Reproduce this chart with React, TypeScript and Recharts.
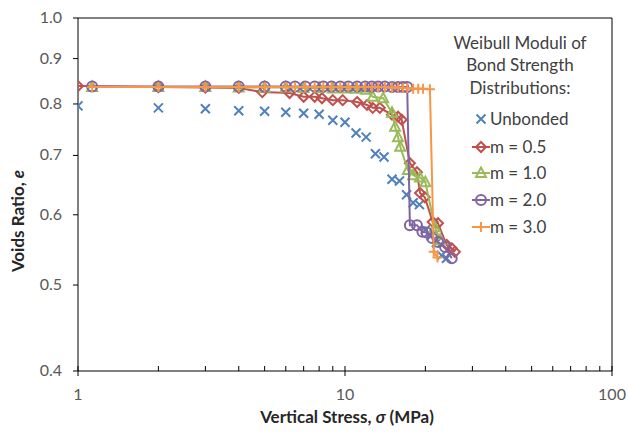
import React from 'react';
import { ScatterChart, Scatter, XAxis, YAxis, ReferenceLine } from 'recharts';

// ---- data ----
const unbondedStress = [1, 2, 3, 4, 5, 6, 7, 8, 9, 10, 11, 12, 13, 14, 15, 16, 17, 18, 19, 20, 21, 22, 23, 24];
const unbondedVoids = [0.796, 0.792, 0.79, 0.786, 0.785, 0.783, 0.781, 0.779, 0.767, 0.763, 0.742, 0.734, 0.703, 0.697, 0.658, 0.655, 0.632, 0.619, 0.616, 0.577, 0.568, 0.558, 0.54, 0.536];

const m05Stress = [1, 2, 3, 4, 4.9, 6.2, 7.0, 7.7, 8.2, 9.0, 9.8, 11.1, 12.1, 12.7, 13.5, 15.0, 15.8, 16.3, 17.5, 18.6, 19.1, 19.9, 21.3, 22.3, 24.0, 25.1, 25.8];
const m05Voids = [0.838, 0.836, 0.835, 0.834, 0.825, 0.823, 0.815, 0.815, 0.812, 0.808, 0.808, 0.804, 0.798, 0.792, 0.792, 0.778, 0.774, 0.768, 0.686, 0.67, 0.635, 0.628, 0.589, 0.587, 0.555, 0.55, 0.545];

const m10Stress = [1.13, 2, 3, 4, 5, 6, 7, 8, 9, 10, 11, 12, 12.7, 13.9, 15.0, 15.4, 15.8, 16.1, 17.2, 18.0, 19.1, 20.0, 21.7, 22.7];
const m10Voids = [0.836, 0.836, 0.836, 0.835, 0.835, 0.835, 0.834, 0.834, 0.833, 0.833, 0.832, 0.83, 0.815, 0.812, 0.782, 0.754, 0.734, 0.716, 0.674, 0.665, 0.661, 0.653, 0.581, 0.562];

const m20Stress = [1.13, 2, 3, 4, 5, 6, 6.5, 7.1, 7.7, 8.3, 8.9, 9.6, 10.3, 11.1, 11.9, 12.6, 13.3, 14.1, 15.0, 15.8, 16.5, 17.1, 17.5, 18.6, 19.5, 20.2, 21.2, 22.3, 23.7, 25.1];
const m20Voids = [0.837, 0.837, 0.837, 0.837, 0.837, 0.837, 0.837, 0.837, 0.837, 0.837, 0.837, 0.837, 0.837, 0.837, 0.837, 0.837, 0.837, 0.837, 0.836, 0.836, 0.836, 0.836, 0.584, 0.584, 0.574, 0.573, 0.565, 0.559, 0.552, 0.536];

const m30Stress = [1.13, 2, 3, 4, 5, 6, 6.5, 7.1, 7.7, 8.3, 8.9, 9.6, 10.3, 11.1, 11.9, 12.6, 13.3, 14.1, 15.0, 15.8, 16.5, 17.1, 18.0, 18.8, 19.6, 20.8, 21.5, 22.2];
const m30Voids = [0.836, 0.836, 0.836, 0.836, 0.836, 0.836, 0.836, 0.836, 0.836, 0.836, 0.836, 0.836, 0.836, 0.836, 0.836, 0.836, 0.836, 0.836, 0.835, 0.835, 0.834, 0.834, 0.832, 0.832, 0.832, 0.831, 0.545, 0.537];

const xTicks = [1, 2, 3, 4, 5, 6, 7, 8, 9, 10, 20, 30, 40, 50, 60, 70, 80, 90, 100];
const xLabels = [1, 10, 100];
const yTicks = [0.4, 0.5, 0.6, 0.7, 0.8, 0.9, 1.0];

const legendTitle = ['Weibull Moduli of', 'Bond Strength', 'Distributions:'];

type Marker = 'x' | 'diamond' | 'triangle' | 'circle' | 'plus';

const series: { name: string; xs: number[]; ys: number[]; color: string; marker: Marker; line: boolean }[] = [
  { name: 'Unbonded', xs: unbondedStress, ys: unbondedVoids, color: '#4F81BD', marker: 'x', line: false },
  { name: 'm = 0.5', xs: m05Stress, ys: m05Voids, color: '#C0504D', marker: 'diamond', line: true },
  { name: 'm = 1.0', xs: m10Stress, ys: m10Voids, color: '#9BBB59', marker: 'triangle', line: true },
  { name: 'm = 2.0', xs: m20Stress, ys: m20Voids, color: '#8064A2', marker: 'circle', line: true },
  { name: 'm = 3.0', xs: m30Stress, ys: m30Voids, color: '#F79646', marker: 'plus', line: true },
];

const FONT = 'Lato, "Open Sans", sans-serif';

function markerEl(kind: Marker, cx: number, cy: number, color: string) {
  const r = 5;
  const common = { stroke: color, strokeWidth: 2, fill: 'none' };
  switch (kind) {
    case 'x':
      return <path d={`M${cx - 4.5},${cy - 4.5}L${cx + 4.5},${cy + 4.5}M${cx - 4.5},${cy + 4.5}L${cx + 4.5},${cy - 4.5}`} {...common} />;
    case 'diamond':
      return <path d={`M${cx},${cy - r}L${cx + r},${cy}L${cx},${cy + r}L${cx - r},${cy}Z`} {...common} />;
    case 'triangle':
      return <path d={`M${cx},${cy - 5.5}L${cx + 5},${cy + 4}L${cx - 5},${cy + 4}Z`} {...common} />;
    case 'circle':
      return <circle cx={cx} cy={cy} r={5} {...common} />;
    case 'plus':
      return <path d={`M${cx - r},${cy}L${cx + r},${cy}M${cx},${cy - r}L${cx},${cy + r}`} {...common} />;
  }
}

const makeShape = (kind: Marker, color: string) => (props: any) => {
  const { cx, cy } = props;
  if (cx == null || cy == null) return <g />;
  return markerEl(kind, cx, cy, color);
};

const XTick = (props: any) => {
  const { x, y, payload } = props;
  const v = payload.value;
  const major = xLabels.includes(v);
  return (
    <g>
      <line x1={x} x2={x} y1={y - 5} y2={major ? y + 5 : y} stroke="#000" strokeWidth={1} />
      {major && (
        <text x={x} y={y + 29} textAnchor="middle" fontSize={16} fill="#595959" fontFamily={FONT}>
          {v}
        </text>
      )}
    </g>
  );
};

const YTick = (props: any) => {
  const { x, y, payload } = props;
  return (
    <g>
      <line x1={x - 5} x2={x} y1={y} y2={y} stroke="#000" strokeWidth={1} />
      <text x={x - 16} y={y + 5} textAnchor="end" fontSize={16} fill="#595959" fontFamily={FONT}>
        {payload.value.toFixed(1)}
      </text>
    </g>
  );
};

export default function App() {
  const data = series.map((s) => s.xs.map((x, i) => ({ x, y: s.ys[i] })));
  const itemTops = [119, 147, 173, 200, 227];
  const titleTops = [43, 65, 88];
  return (
    <div style={{ position: 'absolute', left: 0, top: 0, width: 629, height: 434, background: '#fff', fontFamily: FONT }}>
      <ScatterChart width={629} height={434} margin={{ top: 18, right: 17, left: 0, bottom: 0 }}>
        <XAxis
          type="number"
          dataKey="x"
          scale="log"
          domain={[1, 100]}
          ticks={xTicks}
          interval={0}
          allowDataOverflow
          axisLine={{ stroke: '#000' }}
          tickLine={false}
          tickSize={0}
          tickMargin={0}
          tick={<XTick />}
          height={63}
        />
        <YAxis
          type="number"
          dataKey="y"
          scale="log"
          domain={[0.4, 1.0]}
          ticks={yTicks}
          interval={0}
          allowDataOverflow
          axisLine={{ stroke: '#000' }}
          tickLine={false}
          tickSize={0}
          tickMargin={0}
          tick={<YTick />}
          width={78}
        />
        <ReferenceLine y={1.0} stroke="#000" strokeWidth={1} />
        <ReferenceLine x={100} stroke="#000" strokeWidth={1} />
        {series.map((s, i) => (
          <Scatter
            key={s.name}
            name={s.name}
            data={data[i]}
            line={s.line ? { stroke: s.color, strokeWidth: 2 } : false}
            lineType="joint"
            shape={makeShape(s.marker, s.color)}
            isAnimationActive={false}
          />
        ))}
      </ScatterChart>

      {/* Legend */}
      {legendTitle.map((t, i) => (
        <div
          key={t}
          style={{ position: 'absolute', left: 520, top: titleTops[i], transform: 'translate(-50%,-50%)', fontSize: 17, color: '#404040', whiteSpace: 'nowrap', lineHeight: '20px' }}
        >
          {t}
        </div>
      ))}
      {series.map((s, i) => (
        <div key={s.name} style={{ position: 'absolute', left: 472, top: itemTops[i] - 10, height: 20, display: 'flex', alignItems: 'center', whiteSpace: 'nowrap' }}>
          <svg width={18} height={14} style={{ display: 'block' }}>
            {s.line && <line x1={0} x2={18} y1={7} y2={7} stroke={s.color} strokeWidth={2} />}
            {markerEl(s.marker, 9, 7, s.color)}
          </svg>
          <span style={{ fontSize: 17, color: '#404040', lineHeight: '20px' }}>{s.name}</span>
        </div>
      ))}

      {/* Axis titles */}
      <div style={{ position: 'absolute', left: 347, top: 416, transform: 'translate(-50%,-50%)', fontWeight: 700, fontSize: 17, color: '#262626', whiteSpace: 'nowrap' }}>
        Vertical Stress, <i>σ</i> (MPa)
      </div>
      <div style={{ position: 'absolute', left: 17, top: 221, transform: 'translate(-50%,-50%) rotate(-90deg)', fontWeight: 700, fontSize: 17, color: '#262626', whiteSpace: 'nowrap' }}>
        Voids Ratio, <i>e</i>
      </div>
    </div>
  );
}
